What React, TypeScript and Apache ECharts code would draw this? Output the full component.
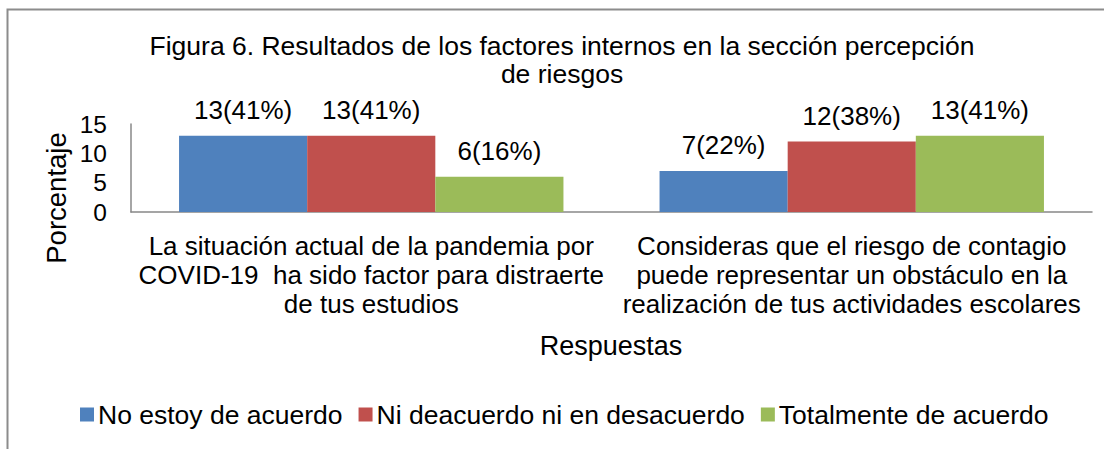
import React, { useEffect, useRef } from "react";
import * as echarts from "echarts";

const categories = [
  "La situación actual de la pandemia por\nCOVID-19  ha sido factor para distraerte\nde tus estudios",
  "Consideras que el riesgo de contagio\npuede representar un obstáculo en la\nrealización de tus actividades escolares",
];
const seriesNames = ["No estoy de acuerdo", "Ni deacuerdo ni en desacuerdo", "Totalmente de acuerdo"];
const seriesValues = [
  [13, 7],
  [13, 12],
  [6, 13],
];
const seriesLabels = [
  ["13(41%)", "7(22%)"],
  ["13(41%)", "12(38%)"],
  ["6(16%)", "13(41%)"],
];
const colors = ["#4F81BD", "#C0504D", "#9BBB59"];
const yTicks = [0, 5, 10, 15];

const FONT = "'Liberation Sans', Arial, sans-serif";

export default function App() {
  const ref = useRef<HTMLDivElement>(null);
  useEffect(() => {
    if (!ref.current) return;
    const chart = echarts.init(ref.current, undefined, { renderer: "svg" });
    chart.setOption({
      animation: false,
      color: colors,
      textStyle: { fontFamily: FONT },
      grid: { left: 131, right: 12, top: 124, height: 88 },
      xAxis: {
        type: "category",
        data: categories,
        axisLine: { lineStyle: { color: "#888888", width: 1.5 } },
        axisTick: { show: false },
        axisLabel: {
          color: "#000",
          fontSize: 26,
          fontFamily: FONT,
          lineHeight: 29,
          margin: 19,
          interval: 0,
        },
      },
      yAxis: {
        type: "value",
        min: yTicks[0],
        max: yTicks[yTicks.length - 1],
        interval: 5,
        splitLine: { show: false },
        axisLine: { show: true, lineStyle: { color: "#888888", width: 1.5 } },
        axisTick: { show: false },
        axisLabel: { color: "#000", fontSize: 24.5, fontFamily: FONT, margin: 24 },
      },
      legend: {
        left: 75,
        top: 396,
        icon: "rect",
        itemWidth: 14,
        itemHeight: 14,
        itemGap: 16,
        textStyle: { color: "#000", fontSize: 26.5, fontFamily: FONT, padding: [0, 0, 0, -1] },
        data: seriesNames,
      },
      series: seriesNames.map((name, i) => ({
        name,
        type: "bar",
        barGap: "0%",
        barCategoryGap: "20%",
        data: seriesValues[i],
        label: {
          show: true,
          position: "top",
          distance: 13,
          color: "#000",
          fontSize: 26,
          fontFamily: FONT,
          formatter: (p: any) => seriesLabels[i][p.dataIndex],
        },
      })),
      graphic: [
        {
          type: "rect",
          shape: { x: 7.5, y: 9.5, width: 1120, height: 460 },
          style: { fill: "none", stroke: "#8c8c8c", lineWidth: 2 },
          silent: true,
        },
        {
          type: "text",
          x: 562,
          y: 32,
          style: {
            text: "Figura 6. Resultados de los factores internos en la sección percepción\nde riesgos",
            textAlign: "center",
            fontSize: 26.5,
            lineHeight: 28,
            fontFamily: FONT,
            fill: "#000",
          },
        },
        {
          type: "text",
          x: 611,
          y: 346,
          style: {
            text: "Respuestas",
            textAlign: "center",
            textVerticalAlign: "middle",
            fontSize: 27,
            fontFamily: FONT,
            fill: "#000",
          },
        },
        {
          type: "text",
          x: 56,
          y: 198,
          rotation: Math.PI / 2,
          style: {
            text: "Porcentaje",
            textAlign: "center",
            textVerticalAlign: "middle",
            fontSize: 27.5,
            fontFamily: FONT,
            fill: "#000",
          },
        },
      ],
    });
    return () => chart.dispose();
  }, []);
  return (
    <div
      ref={ref}
      style={{ position: "fixed", left: 0, top: 0, width: 1104, height: 449, background: "#fff" }}
    />
  );
}
